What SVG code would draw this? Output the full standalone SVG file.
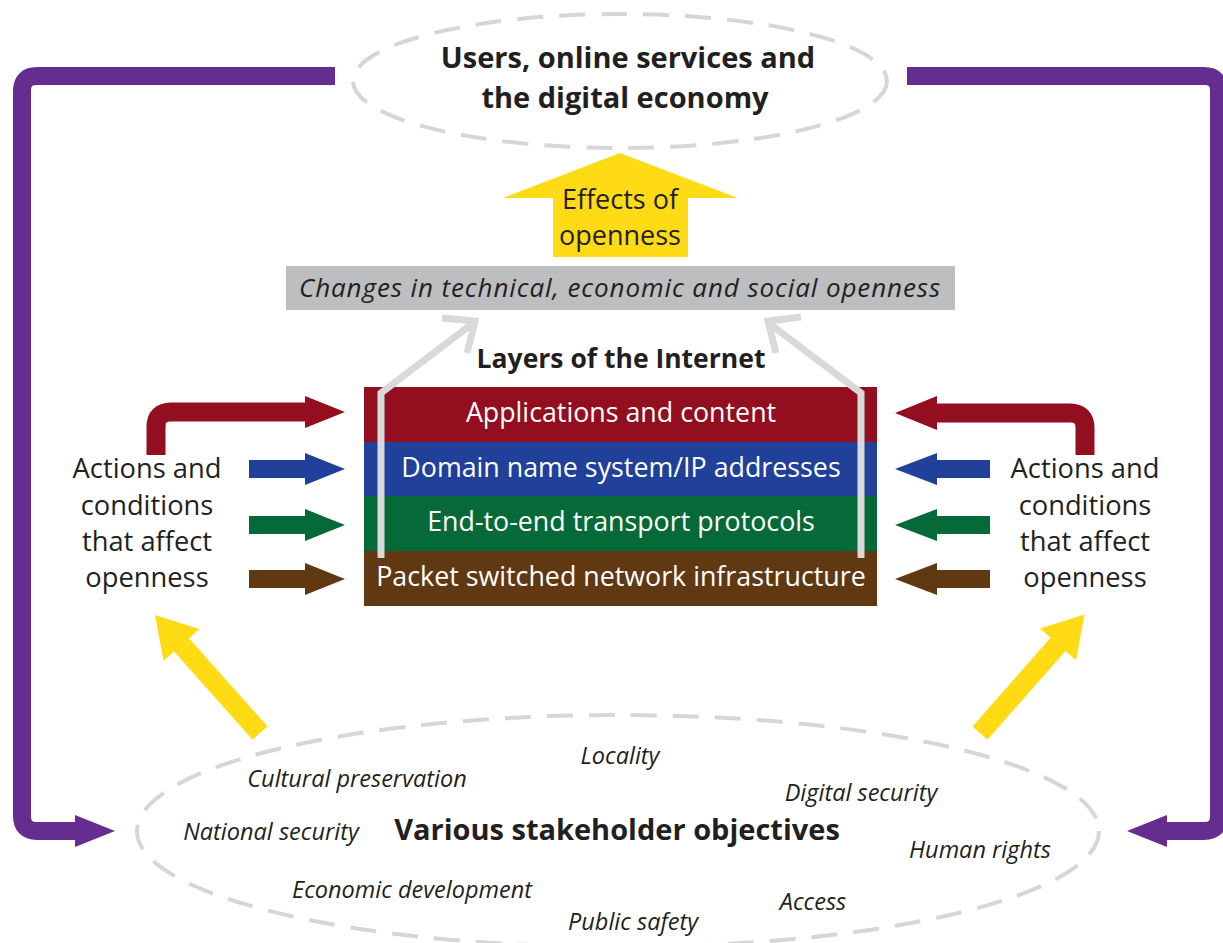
<svg xmlns="http://www.w3.org/2000/svg" width="1223" height="943" viewBox="0 0 1223 943">
  <style>
    text { font-family: "Open Sans", "Noto Sans", "Liberation Sans", sans-serif; fill: #231f20; text-anchor: middle; }
    .title { font-size: 29px; font-weight: bold; }
    .layer { font-size: 26.8px; fill: #ffffff; }
    .side { font-size: 27.3px; }
    .obj { font-size: 23.5px; font-style: italic; }
    .ellipse { fill: none; stroke: #d6d6d6; stroke-width: 4; stroke-dasharray: 26 16; }
    .loop { fill: none; stroke: #662d91; stroke-width: 18; }
    .loophead { fill: #662d91; }
    .up { fill: none; stroke: #d9d9d9; stroke-width: 7; stroke-linejoin: miter; }
    .yellow { fill: #ffdb16; }
  </style>

  <!-- connectors -->
  <g id="connectors">
    <!-- purple feedback loop from top ellipse to stakeholder objectives -->
    <path class="loop" d="M335,76 H37 Q22,76 22,91 V816 Q22,831 37,831 H78"/>
    <polygon class="loophead" points="75,815 115,831 75,847"/>
    <path class="loop" d="M907,76 H1204 Q1219,76 1219,91 V816 Q1219,831 1204,831 H1165"/>
    <polygon class="loophead" points="1167,815 1127,831 1167,847"/>

    <!-- yellow arrows from objectives to actions -->
    <polygon class="yellow" transform="translate(260,733) rotate(-131.7)" points="0,-10 118,-10 118,-24 158,0 118,24 118,10 0,10"/>
    <polygon class="yellow" transform="translate(980,733) rotate(-48.6)" points="0,-10 118,-10 118,-24 158,0 118,24 118,10 0,10"/>

    <!-- left action arrows -->
    <path d="M156,455 V427 Q156,412 171,412 H306" fill="none" stroke="#930f1f" stroke-width="19"/>
    <polygon fill="#930f1f" points="305,396 345,412 305,428"/>
    <polygon fill="#21409a" points="249,460 305,460 305,453 345,469 305,485 305,478 249,478"/>
    <polygon fill="#066a38" points="249,516 305,516 305,509 345,525 305,541 305,534 249,534"/>
    <polygon fill="#603913" points="249,570 305,570 305,563 345,579 305,595 305,588 249,588"/>

    <!-- right action arrows -->
    <path d="M1085,455 V428 Q1085,413 1070,413 H936" fill="none" stroke="#930f1f" stroke-width="19"/>
    <polygon fill="#930f1f" points="937,396 895,413 937,430"/>
    <polygon fill="#21409a" points="990,460 937,460 937,453 895,469 937,485 937,478 990,478"/>
    <polygon fill="#066a38" points="990,516 937,516 937,509 895,525 937,541 937,534 990,534"/>
    <polygon fill="#603913" points="990,570 937,570 937,563 895,579 937,595 937,588 990,588"/>
  </g>

  <!-- top ellipse: users and economy -->
  <g id="users">
    <ellipse class="ellipse" cx="620" cy="81" rx="267" ry="67"/>
    <text class="title" x="628" y="68">Users, online services and</text>
    <text class="title" x="625" y="108">the digital economy</text>
  </g>

  <!-- effects of openness arrow -->
  <g id="effects">
    <polygon class="yellow" points="553,257 553,198 503,198 620,153 738,198 688,198 688,257"/>
    <text x="620" y="209" style="font-size:27px">Effects of</text>
    <text x="620" y="245" style="font-size:27px">openness</text>
  </g>

  <!-- changes box -->
  <g id="changes">
    <rect x="286" y="266" width="669" height="44" fill="#bcbec0"/>
    <text x="620" y="297" style="font-size:26px;font-style:italic;letter-spacing:0.9px">Changes in technical, economic and social openness</text>
  </g>

  <!-- layers of the Internet -->
  <g id="layers">
    <text x="621" y="368" style="font-size:26.5px;font-weight:bold">Layers of the Internet</text>
    <rect x="364" y="387" width="513" height="55" fill="#930f1f"/>
    <rect x="364" y="442" width="513" height="54" fill="#21409a"/>
    <rect x="364" y="496" width="513" height="55" fill="#066a38"/>
    <rect x="364" y="551" width="513" height="55" fill="#603913"/>
    <text class="layer" x="621" y="422">Applications and content</text>
    <text class="layer" x="621" y="477">Domain name system/IP addresses</text>
    <text class="layer" x="621" y="531">End-to-end transport protocols</text>
    <text class="layer" x="621" y="586">Packet switched network infrastructure</text>
  </g>

  <!-- grey upward arrows from layers to changes -->
  <g id="layer-effects">
    <polyline class="up" points="381,558 381,393 472,324"/>
    <polyline class="up" points="442,318 475,321 467,353"/>
    <polyline class="up" points="861,558 861,393 770,324"/>
    <polyline class="up" points="801,317 768,321 776,353"/>
  </g>

  <!-- side captions -->
  <g id="actions-left">
    <text class="side" x="147" y="478">Actions and</text>
    <text class="side" x="147" y="515">conditions</text>
    <text class="side" x="147" y="551">that affect</text>
    <text class="side" x="147" y="587">openness</text>
  </g>
  <g id="actions-right">
    <text class="side" x="1085" y="478">Actions and</text>
    <text class="side" x="1085" y="515">conditions</text>
    <text class="side" x="1085" y="551">that affect</text>
    <text class="side" x="1085" y="587">openness</text>
  </g>

  <!-- stakeholder objectives -->
  <g id="objectives">
    <ellipse class="ellipse" cx="618" cy="831" rx="481" ry="116"/>
    <text x="617" y="840" style="font-size:29px;font-weight:bold">Various stakeholder objectives</text>
    <text class="obj" x="620" y="764">Locality</text>
    <text class="obj" x="357" y="787">Cultural preservation</text>
    <text class="obj" x="861" y="801">Digital security</text>
    <text class="obj" x="271" y="840">National security</text>
    <text class="obj" x="980" y="858">Human rights</text>
    <text class="obj" x="412" y="898">Economic development</text>
    <text class="obj" x="813" y="910">Access</text>
    <text class="obj" x="633" y="930">Public safety</text>
  </g>
</svg>
